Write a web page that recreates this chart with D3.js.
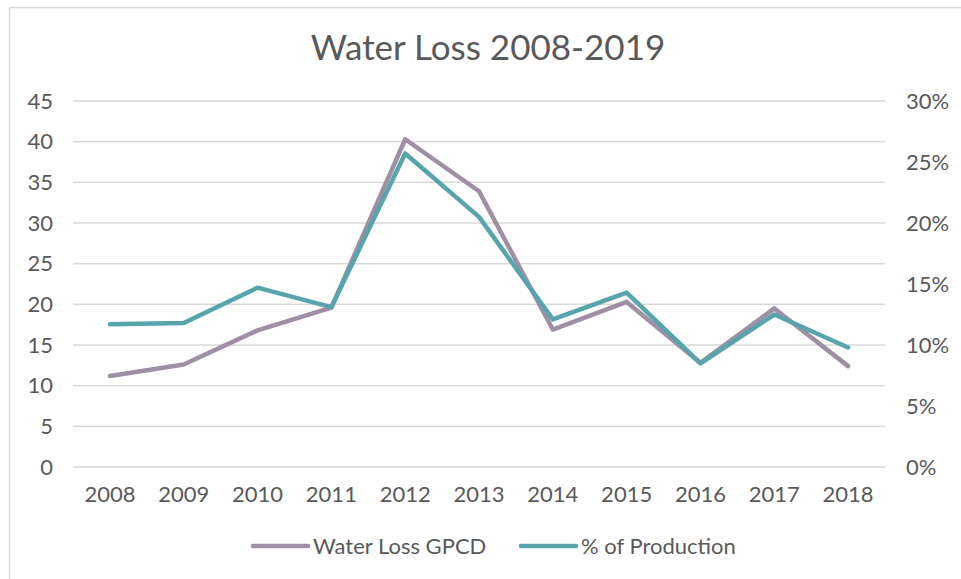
<!DOCTYPE html>
<html>
<head>
<meta charset="utf-8">
<script src="https://cdn.jsdelivr.net/npm/d3@7"></script>
<style>
  html, body { margin: 0; padding: 0; background: #fff; }
  svg { display: block; }
</style>
</head>
<body>
<div id="chart"></div>
<script>
// ── Data ────────────────────────────────────────────────
const years = ['2008', '2009', '2010', '2011', '2012', '2013', '2014', '2015', '2016', '2017', '2018'];
const gpcd = [11.2, 12.6, 16.8, 19.6, 40.3, 33.9, 16.9, 20.3, 12.8, 19.5, 12.4];
const pctProduction = [11.7, 11.8, 14.7, 13.1, 25.7, 20.5, 12.1, 14.3, 8.5, 12.5, 9.8];
const leftTicks = [0, 5, 10, 15, 20, 25, 30, 35, 40, 45];
const rightTicks = [0, 5, 10, 15, 20, 25, 30];

const W = 961, H = 579;
const font = 'Lato, "Open Sans", sans-serif';
const textColor = '#595959';
const purple = '#9e8fa2';
const teal = '#58a4ad';

const margin = { top: 101, right: 76, bottom: 112, left: 73 };

const svg = d3.select('#chart').append('svg')
  .attr('width', W)
  .attr('height', H);

// Chart border
svg.append('rect')
  .attr('x', 9.5).attr('y', 7.5)
  .attr('width', W).attr('height', H)
  .attr('fill', 'none')
  .attr('stroke', '#d9d9d9')
  .attr('stroke-width', 1.5);

// ── Scales ──────────────────────────────────────────────
const x = d3.scaleBand()
  .domain(years)
  .range([margin.left, W - margin.right]);

const yLeft = d3.scaleLinear()
  .domain([0, 45])
  .range([H - margin.bottom, margin.top]);

const yRight = d3.scaleLinear()
  .domain([0, 30])
  .range([H - margin.bottom, margin.top]);

// ── Title ───────────────────────────────────────────────
svg.append('text')
  .attr('x', 488).attr('y', 60)
  .attr('text-anchor', 'middle')
  .attr('font-family', font)
  .attr('font-size', 35)
  .attr('fill', textColor)
  .text('Water Loss 2008-2019');

// ── Gridlines ───────────────────────────────────────────
svg.append('g')
  .selectAll('line')
  .data(leftTicks)
  .join('line')
  .attr('x1', margin.left).attr('x2', W - margin.right)
  .attr('y1', d => yLeft(d)).attr('y2', d => yLeft(d))
  .attr('stroke', '#d9d9d9')
  .attr('stroke-width', 1.5);

// ── Axes ────────────────────────────────────────────────
const leftAxis = svg.append('g')
  .attr('transform', `translate(${margin.left - 20},0)`)
  .call(d3.axisLeft(yLeft).tickValues(leftTicks).tickSize(0).tickPadding(0));

const rightAxis = svg.append('g')
  .attr('transform', `translate(${W - margin.right + 21},0)`)
  .call(d3.axisRight(yRight).tickValues(rightTicks).tickSize(0).tickPadding(0)
    .tickFormat(d => d + '%'));

const bottomAxis = svg.append('g')
  .attr('transform', `translate(0,${H - margin.bottom})`)
  .call(d3.axisBottom(x).tickSize(0).tickPadding(19));

[leftAxis, rightAxis, bottomAxis].forEach(a => {
  a.select('.domain').remove();
  a.selectAll('text')
    .attr('font-family', font)
    .attr('font-size', 22)
    .attr('fill', textColor);
});
bottomAxis.selectAll('text').attr('dy', '0.71em');

// ── Lines ───────────────────────────────────────────────
const cx = d => x(d) + x.bandwidth() / 2;

const lineLeft = d3.line()
  .x((d, i) => cx(years[i]))
  .y(d => yLeft(d));

const lineRight = d3.line()
  .x((d, i) => cx(years[i]))
  .y(d => yRight(d));

svg.append('path')
  .datum(gpcd)
  .attr('d', lineLeft)
  .attr('fill', 'none')
  .attr('stroke', purple)
  .attr('stroke-width', 4.5)
  .attr('stroke-linecap', 'round')
  .attr('stroke-linejoin', 'round');

svg.append('path')
  .datum(pctProduction)
  .attr('d', lineRight)
  .attr('fill', 'none')
  .attr('stroke', teal)
  .attr('stroke-width', 4.5)
  .attr('stroke-linecap', 'round')
  .attr('stroke-linejoin', 'round');

// ── Legend ──────────────────────────────────────────────
const legendItems = [
  { label: 'Water Loss GPCD', color: purple, x: 253 },
  { label: '% of Production', color: teal, x: 521 },
];

const legend = svg.append('g')
  .selectAll('g')
  .data(legendItems)
  .join('g')
  .attr('transform', d => `translate(${d.x},546)`);

legend.append('line')
  .attr('x1', 0).attr('x2', 55)
  .attr('stroke', d => d.color)
  .attr('stroke-width', 4.5)
  .attr('stroke-linecap', 'round');

legend.append('text')
  .attr('x', 60)
  .attr('dy', '0.35em')
  .attr('font-family', font)
  .attr('font-size', 22)
  .attr('fill', textColor)
  .text(d => d.label);
</script>
</body>
</html>
